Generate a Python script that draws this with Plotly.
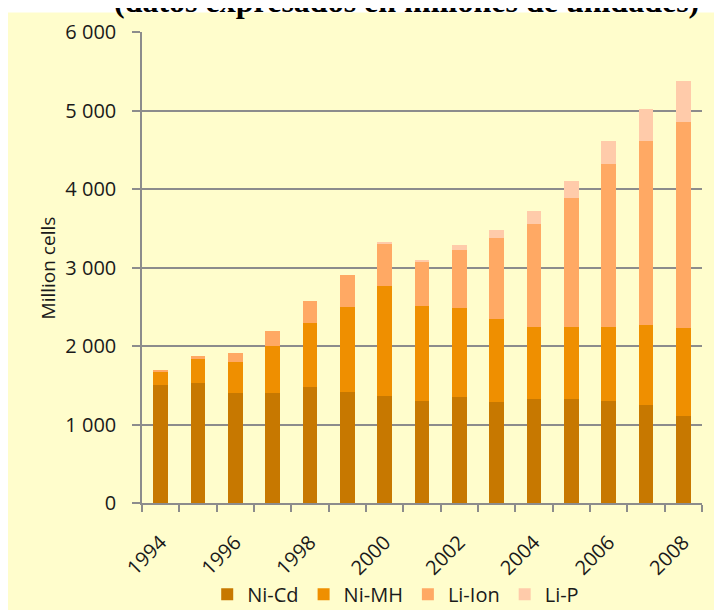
import plotly.graph_objects as go

years = [str(y) for y in range(1994, 2009)]
tick_text = [y if int(y) % 2 == 0 else "" for y in years]

ni_cd = [1500, 1530, 1405, 1395, 1480, 1415, 1365, 1305, 1345, 1290, 1325, 1320, 1305, 1245, 1110]
ni_mh = [175, 310, 390, 600, 810, 1085, 1400, 1200, 1140, 1055, 920, 920, 940, 1025, 1120]
li_ion = [20, 35, 120, 200, 280, 410, 535, 560, 740, 1030, 1315, 1650, 2070, 2340, 2625]
li_p = [0, 0, 0, 0, 0, 0, 20, 30, 60, 100, 155, 210, 300, 405, 515]

series = [
    ("Ni-Cd", ni_cd, "#C77800"),
    ("Ni-MH", ni_mh, "#EF8F00"),
    ("Li-Ion", li_ion, "#FFA964"),
    ("Li-P", li_p, "#FFCBAA"),
]

bg = "#FFFDCC"
grid = "#8C8C8C"
font = "Open Sans"

fig = go.Figure()
for name, vals, col in series:
    fig.add_trace(go.Bar(x=years, y=vals, name=name, marker_color=col,
                         marker_line_width=0))

fig.update_layout(
    width=722, height=610,
    barmode="stack", bargap=0.6,
    paper_bgcolor=bg, plot_bgcolor=bg,
    margin=dict(l=134, r=28, t=24, b=115),
    separators=", ",
    font=dict(family=font, size=20, color="#1a1a1a"),
    legend=dict(orientation="h", xref="container", x=0.537, xanchor="center",
                yref="container", y=0.039, yanchor="middle",
                font=dict(size=20), traceorder="normal", itemwidth=30,
                bgcolor="rgba(0,0,0,0)"),
    shapes=[
        dict(type="rect", xref="paper", yref="paper", x0=-0.3, x1=1.1, y0=1.0414, y1=1.2,
             fillcolor="white", line_width=0, layer="below"),
    ],
    annotations=[
        dict(text="<b>(datos expresados en millones de unidades)</b>", xref="paper", yref="paper",
             x=0.472, y=1, yanchor="bottom", yshift=11, showarrow=False,
             font=dict(family="Liberation Serif", size=32, color="black")),
        dict(text="Million cells", xref="paper", yref="paper", x=-0.168, y=0.5,
             xanchor="center", yanchor="middle",
             textangle=-90, showarrow=False, font=dict(size=19)),
    ],
)

fig.update_yaxes(range=[0, 6000], dtick=1000, tickformat=",", showgrid=True,
                 gridcolor=grid, gridwidth=1.5, showline=True, linecolor=grid, linewidth=1.5,
                 ticks="outside", ticklen=8, tickcolor=grid, tickwidth=1.5,
                 ticklabelstandoff=12, zeroline=False, automargin=False)
fig.update_xaxes(type="category", tickmode="array", tickvals=years, ticktext=tick_text,
                 tickson="boundaries", tickangle=-45, ticks="outside", ticklen=7,
                 tickcolor=grid, tickwidth=1.5, showline=True, linecolor=grid, linewidth=1.5,
                 showgrid=False, ticklabelstandoff=18, automargin=False)

fig.write_html("out.html")
